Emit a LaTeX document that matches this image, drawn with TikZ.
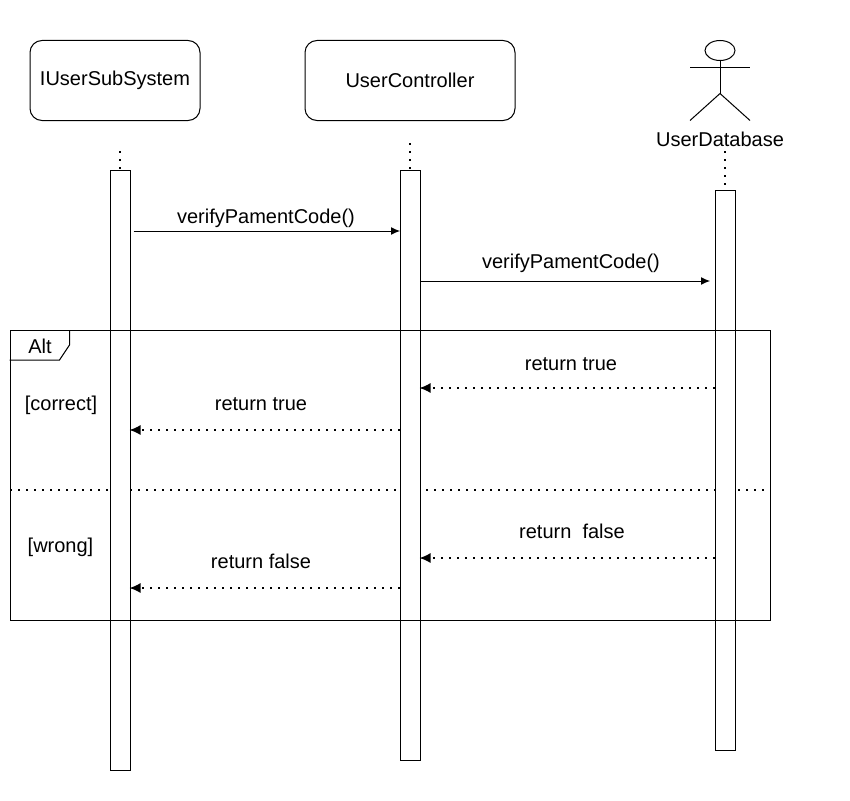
\documentclass[tikz,border=0pt]{standalone}
\usepackage{fontspec}
\setmainfont{Liberation Sans}
\usetikzlibrary{positioning,arrows.meta,shapes.geometric}
\tikzset{
  box/.style={draw,rounded corners=12pt,minimum height=80pt,inner sep=0pt},
  bar/.style={draw,fill=white,minimum width=20pt,inner sep=0pt},
  txt/.style={inner sep=0pt},
  call/.style={-{Latex[length=9pt,width=8pt]}},
  ret/.style={line width=1.4pt,dash pattern=on 1.6pt off 6.4pt,-{Latex[length=11pt,width=10pt]}},
  life/.style={line width=1.4pt,dash pattern=on 1.6pt off 6.4pt}
}
\begin{document}
\begin{tikzpicture}[x=1pt,y=-1pt,line width=1pt,font=\fontsize{20}{23}\selectfont]
  \useasboundingbox (0,0) rectangle (850,800);

  \node (subsystem) at (115,80.5) [box,minimum width=170pt] {IUserSubSystem};
  \node (controller) at (410,80.5) [box,minimum width=210pt] {UserController};

  % actor
  \node (head) at (720,50.5) [draw,ellipse,minimum width=30pt,minimum height=20pt,inner sep=0pt] {};
  \coordinate (hip) at (720,93.5);
  \coordinate (armL) at (690,67);
  \coordinate (armR) at (750,67);
  \coordinate (legL) at (690,120.5);
  \coordinate (legR) at (750,120.5);
  \draw (head.south) -- (hip);
  \draw (armL) -- (armR);
  \draw (legL) -- (hip) -- (legR);
  \node (database) at (720,139.5) [txt] {UserDatabase};

  % divider goes under the bars
  \coordinate (divL) at (10,490);
  \coordinate (divR) at (770,490);
  \draw [life] (divL) -- (divR);

  \coordinate (lifeA) at (120,151);
  \coordinate (lifeB) at (410,143);
  \coordinate (lifeC) at (725,151);
  \node (barA) at (120,470.5) [bar,minimum height=600pt] {};
  \node (barB) at (410,465.5) [bar,minimum height=590pt] {};
  \node (barC) at (725,470.5) [bar,minimum height=560pt] {};
  \draw [life] (lifeA) -- (barA.north);
  \draw [life] (lifeB) -- (barB.north);
  \draw [life] (lifeC) -- (barC.north);

  % frame
  \node (frame) at (390,475.5) [draw,minimum width=760pt,minimum height=290pt,inner sep=0pt] {};
  \draw (frame.north west) ++(60,0) -- ++(0,15) -- ++(-10,15) -- ++(-50,0);
  \node (alt) at (40,346.5) [txt] {Alt};
  \node (correct) at (61,405) [txt] {[correct]};
  \node (wrong) at (60.5,547) [txt] {[wrong]};

  % messages
  \draw [call] ([xshift=3pt,yshift=-61pt]barA.north east) -- ([xshift=.5pt,yshift=-61pt]barB.north west);
  \node (callA) at (266,218) [txt] {verifyPamentCode()};
  \draw [call] ([yshift=-111pt]barB.north east) -- ([xshift=-4.5pt,yshift=-91pt]barC.north west);
  \node (callB) at (571,263) [txt] {verifyPamentCode()};

  \draw [ret] ([yshift=-198pt]barC.north west) -- ([xshift=-1pt,yshift=-218pt]barB.north east);
  \node (retA) at (571,364) [txt] {return true};
  \draw [ret] ([yshift=-260pt]barB.north west) -- ([xshift=-1pt,yshift=-260pt]barA.north east);
  \node (retB) at (261,404) [txt] {return true};
  \draw [ret] ([yshift=-368pt]barC.north west) -- ([xshift=-1pt,yshift=-388pt]barB.north east);
  \node (retC) at (572,531) [txt] {return\ \ false};
  \draw [ret] ([yshift=-418pt]barB.north west) -- ([xshift=-1pt,yshift=-418pt]barA.north east);
  \node (retD) at (261,561) [txt] {return false};
\end{tikzpicture}
\end{document}
